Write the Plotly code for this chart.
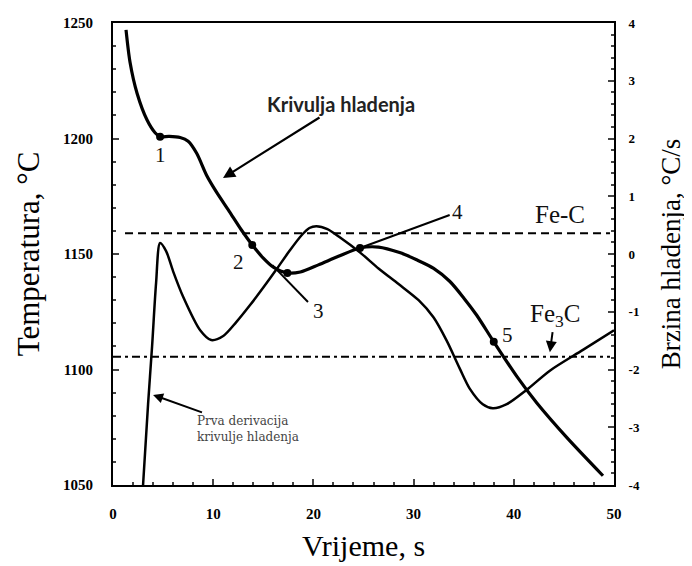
import plotly.graph_objects as go

# ---- data ----
cool_t = [1.3, 1.7, 2.4, 3.4, 4.2, 4.7, 5.6, 6.7, 7.5, 8.35, 9.35, 10.3, 11.6, 12.8, 13.9,
          15.0, 16.0, 17.4, 18.7, 20.5, 22.5, 24.65, 26.5, 28.6, 30.3, 32.0, 33.6, 35.0,
          36.3, 38.0, 40.3, 42.3, 45.3, 48.9]
cool_T = [1247, 1233, 1219.6, 1208, 1202.5, 1200.8, 1200.9, 1200.4, 1198.8, 1193.6, 1184,
          1177, 1168.5, 1160.5, 1153.9, 1148.2, 1144.3, 1141.8, 1142.2, 1145.3, 1149, 1152.6,
          1153, 1150.6, 1147.5, 1143.8, 1138.2, 1131.0, 1123.5, 1112, 1097, 1085.5, 1070.5,
          1054]

deriv_t = [3.0, 3.5, 3.9, 4.3, 4.7, 5.3, 6.0, 7.0, 8.7, 9.8, 11.0, 12.3, 13.7, 15.0, 16.3,
           17.6, 18.8, 19.6, 20.3, 21.4, 22.7, 24.7, 26.5, 28.5, 30.5, 32.0, 33.3, 34.6,
           35.6, 36.9, 37.9, 39.3, 41.3, 43.6, 46.9, 50.0]
deriv_r = [-4.0, -2.6, -1.6, -0.5, 0.19, 0.05, -0.3, -0.74, -1.32, -1.49, -1.42, -1.18,
           -0.88, -0.58, -0.27, 0.05, 0.32, 0.45, 0.48, 0.43, 0.28, 0.02, -0.25, -0.52, -0.8,
           -1.1, -1.5, -1.98, -2.33, -2.6, -2.67, -2.6, -2.35, -2.02, -1.66, -1.32]

point_t = [4.7, 13.9, 17.4, 24.65, 38.0]
point_T = [1200.8, 1153.9, 1141.8, 1152.6, 1112]
point_labels = ["1", "2", "3", "4", "5"]

fec_T = 1159          # Fe-C line
fe3c_T = 1105.5       # Fe3C line

x_ticks = [0, 10, 20, 30, 40, 50]
y_ticks = [1050, 1100, 1150, 1200, 1250]
y2_ticks = [4, 3, 2, 1, 0, -1, -2, -3, -4]
y2_text = ["4", "3", "2", "1", "0", "-1", "-2", "-3", "-4"]

SERIF = "Liberation Serif"

fig = go.Figure()
fig.add_trace(go.Scatter(x=deriv_t, y=deriv_r, yaxis="y2", mode="lines",
                         line=dict(color="black", width=2.5, shape="spline", smoothing=0.8),
                         showlegend=False))
fig.add_trace(go.Scatter(x=cool_t, y=cool_T, mode="lines",
                         line=dict(color="black", width=3.2, shape="spline", smoothing=0.8),
                         showlegend=False))
fig.add_trace(go.Scatter(x=point_t, y=point_T, mode="markers",
                         marker=dict(color="black", size=8), showlegend=False))

fig.add_shape(type="line", xref="x", yref="y", x0=1.2, x1=49.6, y0=fec_T, y1=fec_T,
              line=dict(color="black", width=2, dash="8px,5px"))
fig.add_shape(type="line", xref="x", yref="y", x0=0, x1=49.6, y0=fe3c_T, y1=fe3c_T,
              line=dict(color="black", width=2, dash="8px,4px,3px,4px"))
# leader lines for labels 3 and 4
fig.add_shape(type="line", xref="x", yref="y", x0=15.9, y0=1145.2, x1=19.46, y1=1129.2,
              line=dict(color="black", width=2))
fig.add_shape(type="line", xref="x", yref="y", x0=24.65, y0=1152.6, x1=33.6, y1=1166.9,
              line=dict(color="black", width=2))

ann = []
lbl_pos = [(4.7, 1192.9), (12.5, 1146.5), (20.5, 1125.3), (34.4, 1168.2), (39.4, 1115)]
for (lx, ly), t in zip(lbl_pos, point_labels):
    ann.append(dict(x=lx, y=ly, text=t, showarrow=False,
                    font=dict(family=SERIF, size=21, color="#111")))
ann.append(dict(x=44.6, y=1166.9, text="Fe-C", showarrow=False,
                font=dict(family=SERIF, size=25, color="#111")))
# Fe3C label with arrow pointing down to its line
ann.append(dict(x=43.6, y=1107.5, ax=5, ay=-37, text="Fe<sub>3</sub>C", showarrow=True,
                arrowhead=2, arrowsize=1.1, arrowwidth=2, arrowcolor="black", standoff=0,
                font=dict(family=SERIF, size=25, color="#111")))
# Krivulja hladenja
ann.append(dict(x=10.98, y=1182.9, ax=118, ay=-74, text="<b>Krivulja hladenja</b>",
                showarrow=True, arrowhead=2, arrowsize=1.1, arrowwidth=2.2,
                arrowcolor="black", standoff=0,
                font=dict(family="Lato", size=20, color="#222")))
# Prva derivacija
ann.append(dict(x=4.0, y=1089, ax=95, ay=34, text="Prva derivacija<br>krivulje hladenja",
                showarrow=True, arrowhead=2, arrowsize=1.0, arrowwidth=2,
                arrowcolor="black", standoff=0, align="left",
                font=dict(family="DejaVu Serif", size=12, color="#444")))

tickfont = dict(family=SERIF, size=15, color="black", weight="bold")

# the page body has an 8px margin, so the figure is drawn 8px right/down
fig.update_layout(
    width=684, height=558,
    margin=dict(l=105, r=78, t=15, b=81),
    paper_bgcolor="white", plot_bgcolor="white",
    annotations=ann,
    xaxis=dict(range=[0, 50], tickvals=x_ticks, ticks="inside", ticklen=6, tickwidth=2,
               minor=dict(dtick=2, ticks="inside", ticklen=3, tickwidth=1.5),
               showline=True, linecolor="black", linewidth=2, mirror=True, automargin=False,
               showgrid=False, zeroline=False, tickfont=tickfont, ticklabelstandoff=14,
               title=dict(text="Vrijeme, s", font=dict(family=SERIF, size=30, color="black"),
                          standoff=14)),
    yaxis=dict(range=[1050, 1250], tickvals=y_ticks, ticks="inside", ticklen=6, tickwidth=2,
               minor=dict(dtick=10, ticks="inside", ticklen=3, tickwidth=1.5),
               showline=True, linecolor="black", linewidth=2, automargin=False,
               showgrid=False, zeroline=False, tickfont=tickfont, ticklabelstandoff=15,
               title=dict(text="Temperatura, °C", font=dict(family=SERIF, size=31, color="black"),
                          standoff=14)),
    yaxis2=dict(range=[-4, 4], tickvals=y2_ticks, ticktext=y2_text, overlaying="y", side="right",
                ticks="inside", ticklen=6, tickwidth=2,
                minor=dict(dtick=0.2, ticks="inside", ticklen=3, tickwidth=1.5),
                showline=True, linecolor="black", linewidth=2, automargin=False,
                showgrid=False, zeroline=False,
                tickfont=dict(family=SERIF, size=13, color="black", weight="bold"),
                ticklabelstandoff=10,
                title=dict(text="Brzina hladenja, °C/s",
                           font=dict(family=SERIF, size=27, color="black"), standoff=22)),
)

fig.write_html("out.html")
